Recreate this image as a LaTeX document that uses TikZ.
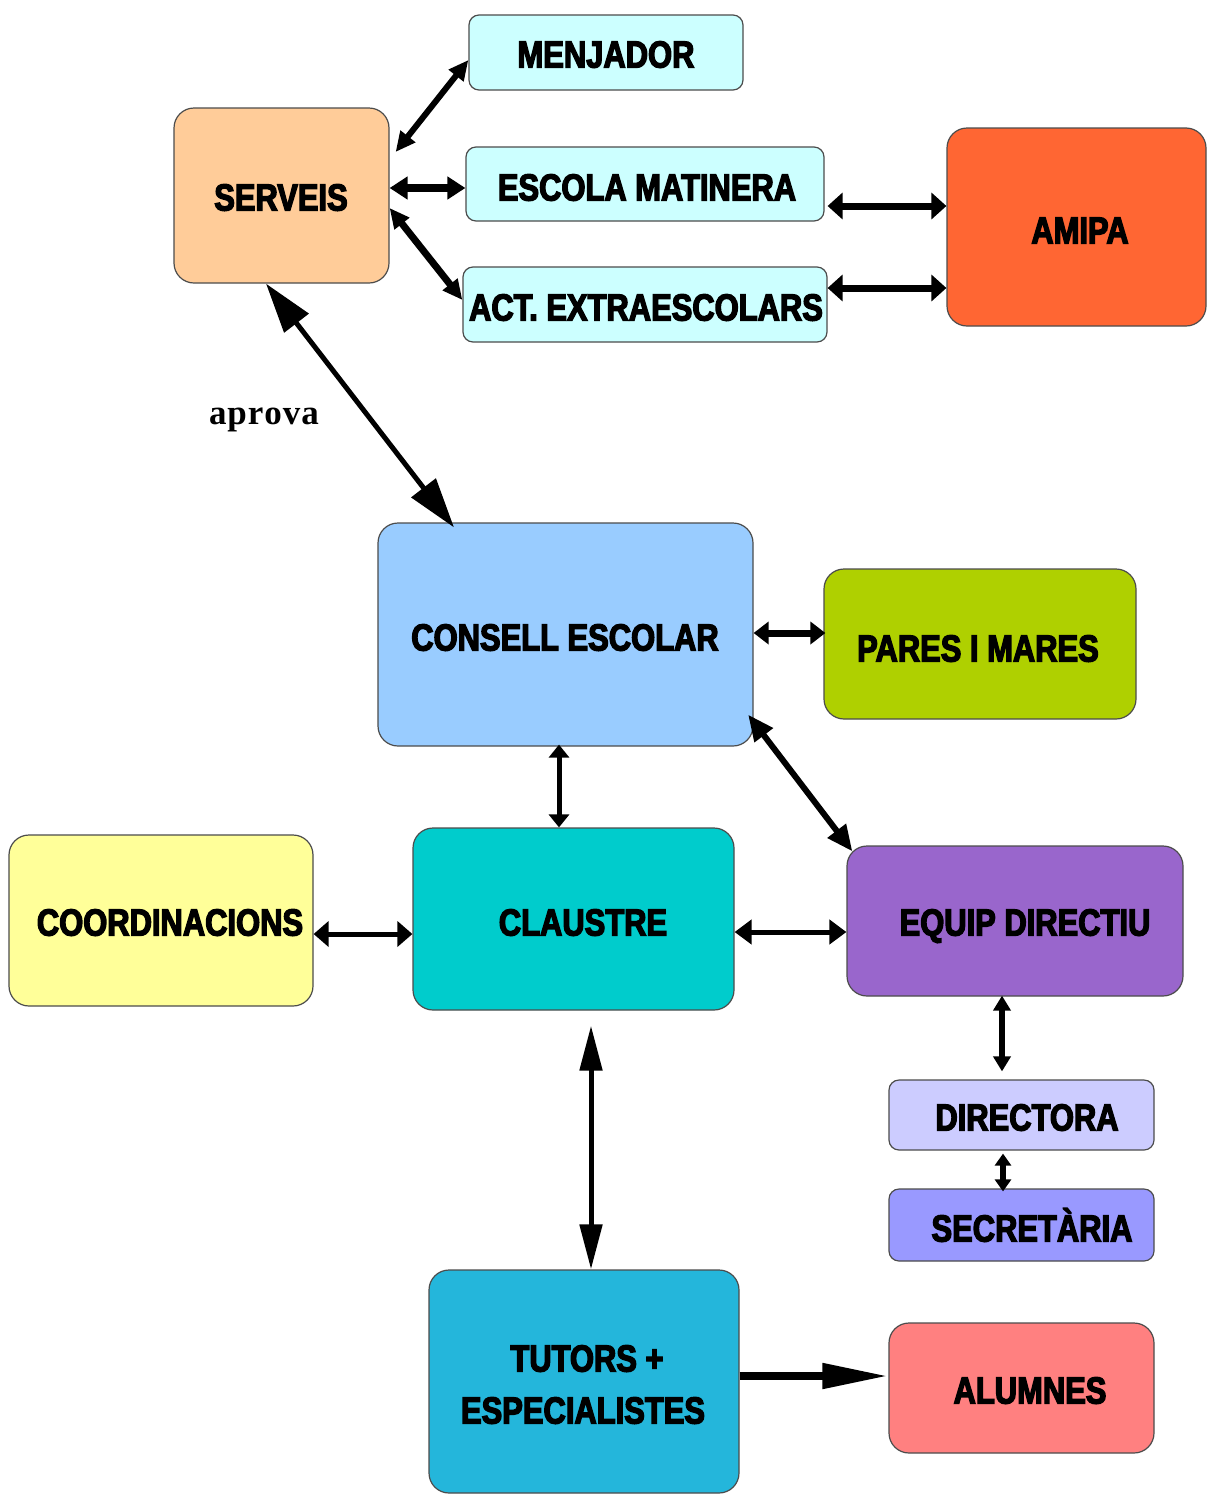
\documentclass[tikz,border=0pt]{standalone}
\usepackage{fontspec}
\setmainfont{Liberation Serif}
\newfontfamily\boxfont[FakeStretch=0.82,FakeBold=3.5]{Liberation Sans Bold}
\usetikzlibrary{arrows.meta}
\definecolor{cyanlt}{HTML}{CCFFFF}
\definecolor{serv}{HTML}{FFCC99}
\definecolor{amipa}{HTML}{FF6633}
\definecolor{consell}{HTML}{99CCFF}
\definecolor{pares}{HTML}{AFD000}
\definecolor{coord}{HTML}{FFFF99}
\definecolor{claus}{HTML}{00CCCC}
\definecolor{equip}{HTML}{9966CC}
\definecolor{direc}{HTML}{CCCCFF}
\definecolor{secre}{HTML}{9999FF}
\definecolor{tutors}{HTML}{24B6DB}
\definecolor{alum}{HTML}{FF8080}
\tikzset{
  box/.style={draw=black!70, line width=1.2pt, rounded corners=20pt, inner sep=0pt},
  sbox/.style={draw=black!70, line width=1.2pt, rounded corners=10pt, inner sep=0pt},
  txt/.style={font=\boxfont\fontsize{37.7}{52}\selectfont, inner sep=0pt, text height=27pt, text depth=0pt},
  dbl/.style n args={3}{line width=#1, {Triangle[length=#2, width=#3]}-{Triangle[length=#2, width=#3]}},
  sgl/.style n args={3}{line width=#1, -{Triangle[length=#2, width=#3]}},
}
\begin{document}
\begin{tikzpicture}[x=1pt,y=-1pt]
\useasboundingbox (0,0) rectangle (1207,1494);
% boxes
\node[sbox, fill=cyanlt, minimum width=274pt, minimum height=75pt] (menjador) at (606,52.5) {};
\node[box, fill=serv, minimum width=215pt, minimum height=175pt] (serveis) at (281.5,195.5) {};
\node[sbox, fill=cyanlt, minimum width=358pt, minimum height=74pt] (escola) at (645,184) {};
\node[sbox, fill=cyanlt, minimum width=364pt, minimum height=75pt] (act) at (645,304.5) {};
\node[box, fill=amipa, minimum width=259pt, minimum height=198pt] (amipa) at (1076.5,227) {};
\node[box, fill=consell, minimum width=375pt, minimum height=223pt] (consell) at (565.5,634.5) {};
\node[box, fill=pares, minimum width=312pt, minimum height=150pt] (pares) at (980,644) {};
\node[box, fill=coord, minimum width=304pt, minimum height=171pt] (coord) at (161,920.5) {};
\node[box, fill=claus, minimum width=321pt, minimum height=182pt] (claustre) at (573.5,919) {};
\node[box, fill=equip, minimum width=336pt, minimum height=150pt] (equip) at (1015,921) {};
\node[sbox, fill=direc, minimum width=265pt, minimum height=70pt] (directora) at (1021.5,1115) {};
\node[sbox, fill=secre, minimum width=265pt, minimum height=72pt] (secretaria) at (1021.5,1225) {};
\node[box, fill=tutors, minimum width=310pt, minimum height=223pt] (tutors) at (584,1381.5) {};
\node[box, fill=alum, minimum width=265pt, minimum height=130pt] (alumnes) at (1021.5,1388) {};
% texts
\node[txt] (tmenjador) at (606,54) {MENJADOR};
\node[txt] (tserveis) at (281,197) {SERVEIS};
\node[txt] (tescola) at (647,187) {ESCOLA MATINERA};
\node[txt] (tact) at (646,307) {ACT. EXTRAESCOLARS};
\node[txt] (tamipa) at (1080,230) {AMIPA};
\node[txt] (tconsell) at (565,637) {CONSELL ESCOLAR};
\node[txt] (tpares) at (978,648) {PARES I MARES};
\node[txt] (tcoord) at (170,922) {COORDINACIONS};
\node[txt] (tclaustre) at (583,922) {CLAUSTRE};
\node[txt] (tequip) at (1025,922) {EQUIP DIRECTIU};
\node[txt] (tdirectora) at (1027,1117) {DIRECTORA};
\node[txt] (tsecretaria) at (1032,1228) {SECRETÀRIA};
\node[txt] (ttutors1) at (587,1358) {TUTORS +};
\node[txt] (ttutors2) at (583,1410) {ESPECIALISTES};
\node[txt] (talumnes) at (1030,1390) {ALUMNES};
\node[font=\bfseries\fontsize{35}{40}\selectfont, inner sep=0pt] (aprova) at (264,420) {a\kern1pt p\kern1pt r\kern1pt o\kern1pt v\kern1pt a};
% connectors
\draw[dbl={6pt}{20pt}{18pt}] ([xshift=6pt,yshift=43.5pt]serveis.east) -- ([yshift=-7.5pt]menjador.west);
\draw[dbl={8pt}{18pt}{22pt}] ([yshift=7.5pt]serveis.east) -- ([yshift=-4pt]escola.west);
\draw[dbl={7pt}{20pt}{18pt}] ([yshift=-12.5pt]serveis.east) -- ([yshift=4.5pt]act.west);
\draw[dbl={7pt}{15pt}{26pt}] ([xshift=3pt,yshift=-22pt]escola.east) -- ([yshift=21pt]amipa.west);
\draw[dbl={7pt}{15pt}{26pt}] ([yshift=16.5pt]act.east) -- ([yshift=-61pt]amipa.west);
\draw[dbl={5pt}{50pt}{30pt}] ([xshift=-15.5pt]serveis.south) -- ([xshift=-111.5pt,yshift=-5pt]consell.north);
\draw[dbl={7pt}{15pt}{22pt}] ([yshift=1.5pt]consell.east) -- ([xshift=2pt,yshift=11pt]pares.west);
\draw[dbl={6pt}{26pt}{22pt}] ([xshift=-5.5pt,yshift=32pt]consell.south east) -- ([xshift=6pt,yshift=-6pt]equip.north west);
\draw[dbl={5pt}{13pt}{20pt}] ([xshift=-6.5pt,yshift=2pt]consell.south) -- ([xshift=-14.5pt]claustre.north);
\draw[dbl={5pt}{15pt}{25pt}] ([yshift=-13.5pt]coord.east) -- ([yshift=-15pt]claustre.west);
\draw[dbl={5pt}{17pt}{24pt}] ([yshift=-13pt]claustre.east) -- ([yshift=-11pt]equip.west);
\draw[dbl={5.5pt}{15pt}{17pt}] ([xshift=-13pt,yshift=1pt]equip.south) -- ([xshift=-19.5pt,yshift=8pt]directora.north);
\draw[dbl={6pt}{12pt}{16pt}] ([xshift=-18.5pt,yshift=-3pt]directora.south) -- ([xshift=-18.5pt,yshift=-3pt]secretaria.north);
\draw[dbl={5pt}{45pt}{22pt}] ([xshift=17.5pt,yshift=-15pt]claustre.south) -- ([xshift=7pt]tutors.north);
\draw[sgl={8pt}{66pt}{24pt}] ([yshift=5.5pt]tutors.east) -- ([yshift=12pt]alumnes.west);
\end{tikzpicture}
\end{document}
